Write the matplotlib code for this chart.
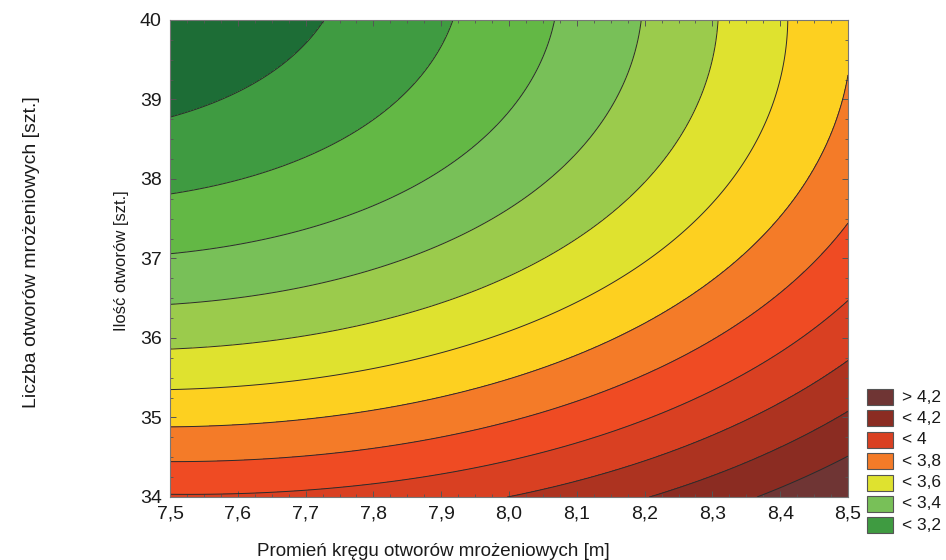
import numpy as np
import matplotlib
matplotlib.use("Agg")
import matplotlib.pyplot as plt
from matplotlib.patches import Rectangle
from matplotlib.ticker import MultipleLocator, FuncFormatter

plt.rcParams["font.family"] = ["Liberation Sans", "DejaVu Sans"]

# Contour boundaries of the response surface (value, radius [m], number of holes)
# left edge, radius 7.5
left_levels = [3.1, 3.2, 3.3, 3.4, 3.5, 3.6, 3.7, 3.8, 3.9]
left_y = [38.78, 37.83, 37.07, 36.44, 35.86, 35.35, 34.87, 34.44, 34.03]
# top edge, 40 holes
top_levels = [3.1, 3.2, 3.3, 3.4, 3.5, 3.6]
top_x = [7.731, 7.92, 8.068, 8.198, 8.308, 8.409]
# right edge, radius 8.5
right_levels = [3.7, 3.8, 3.9, 4.0, 4.1, 4.2]
right_y = [39.45, 37.45, 36.48, 35.68, 35.05, 34.52]
# bottom edge, 34 holes
bottom_levels = [4.0, 4.1, 4.2]
bottom_x = [8.0, 8.2, 8.36]

levels = [3.1, 3.2, 3.3, 3.4, 3.5, 3.6, 3.7, 3.8, 3.9, 4.0, 4.1, 4.2]
band_colors = ["#1d6d36", "#3f9b41", "#63b845", "#78c058", "#9bcb4c", "#dfe22f",
               "#fdd020", "#f47b28", "#ef4b23", "#d94022", "#ad3320", "#8b2c22",
               "#6f3534"]
legend_labels = ["> 4,2", "< 4,2", "< 4", "< 3,8", "< 3,6", "< 3,4", "< 3,2"]
legend_bands = [12, 11, 9, 7, 5, 3, 1]

x_ticks = [7.5, 7.6, 7.7, 7.8, 7.9, 8.0, 8.1, 8.2, 8.3, 8.4, 8.5]
y_ticks = [34, 35, 36, 37, 38, 39, 40]

# quadratic response surface fitted to the boundaries
px = np.concatenate([np.full(len(left_y), 7.5), top_x, np.full(len(right_y), 8.5), bottom_x])
py = np.concatenate([left_y, np.full(len(top_x), 40.0), right_y, np.full(len(bottom_x), 34.0)])
pz = np.concatenate([left_levels, top_levels, right_levels, bottom_levels])
u, v = px - 8.0, py - 37.0
A = np.column_stack([np.ones_like(u), u, v, u * u, u * v, v * v])
coef, *_ = np.linalg.lstsq(A, pz, rcond=None)

xg = np.linspace(7.5, 8.5, 401)
yg = np.linspace(34, 40, 401)
XG, YG = np.meshgrid(xg, yg)
U, V = XG - 8.0, YG - 37.0
Z = coef[0] + coef[1] * U + coef[2] * V + coef[3] * U * U + coef[4] * U * V + coef[5] * V * V

W, H = 946, 560
fig = plt.figure(figsize=(W / 100, H / 100), dpi=100)
L, R, T, B = 170, 848, 20, 497
ax = fig.add_axes([L / W, 1 - B / H, (R - L) / W, (B - T) / H])

fill_levels = [min(Z.min(), 3.0) - 1] + levels + [max(Z.max(), 4.3) + 1]
ax.contourf(XG, YG, Z, levels=fill_levels, colors=band_colors)
ax.contour(XG, YG, Z, levels=levels, colors="#2b2b2b", linewidths=0.7)

ax.set_xlim(7.5, 8.5)
ax.set_ylim(34, 40)
ax.set_xticks(x_ticks)
ax.set_yticks(y_ticks)
ax.xaxis.set_minor_locator(MultipleLocator(0.025))
ax.yaxis.set_minor_locator(MultipleLocator(0.25))
ax.xaxis.set_major_formatter(FuncFormatter(lambda val, pos: f"{val:.1f}".replace(".", ",")))
ax.yaxis.set_major_formatter(FuncFormatter(lambda val, pos: f"{val:.0f}"))
ax.tick_params(which="both", direction="in", top=True, right=True, color="#555555",
               labelsize=14, labelcolor="#1a1a1a", pad=6)
ax.tick_params(which="major", length=4, width=0.7)
ax.tick_params(which="minor", length=2.5, width=0.6)
for s in ax.spines.values():
    s.set_color("#777777")
    s.set_linewidth(0.8)

# overlay in pixel coordinates for labels and legend
ov = fig.add_axes([0, 0, 1, 1])
ov.set_xlim(0, W)
ov.set_ylim(H, 0)
ov.axis("off")

ov.text(121, 261, "Ilość otworów [szt.]", rotation=90, ha="center", va="center",
        fontsize=12, color="#1a1a1a")
ov.text(31, 252, "Liczba otworów mrożeniowych [szt.]", rotation=90, ha="center",
        va="center", fontsize=14, color="#1a1a1a")
ov.text(433, 552, "Promień kręgu otworów mrożeniowych [m]", ha="center", va="center",
        fontsize=13.5, color="#1a1a1a")

for i, (lab, bi) in enumerate(zip(legend_labels, legend_bands)):
    yc = 397 + i * 21.4
    ov.add_patch(Rectangle((867, yc - 8), 26, 16, facecolor=band_colors[bi],
                           edgecolor="#555555", linewidth=0.8))
    ov.text(902, yc, lab, ha="left", va="center", fontsize=12.5, color="#1a1a1a")

fig.savefig("out.png", dpi=100)
